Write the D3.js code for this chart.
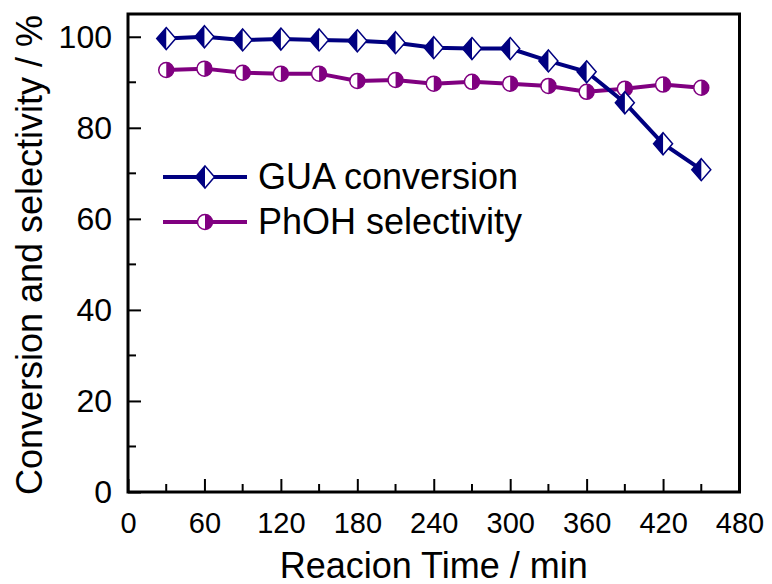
<!DOCTYPE html>
<html lang="en">
<head>
  <meta charset="UTF-8">
  <title>Conversion and selectivity</title>
  <script src="https://d3js.org/d3.v7.min.js"></script>
  <style>
    body {
      margin: 0;
      padding: 0;
      background: #fff;
    }
    svg text {
      font-family: "Liberation Sans", Arial, sans-serif;
      fill: #000;
    }
  </style>
</head>
<body>
  <svg id="chart"></svg>
  <script>
    // values
    const times = [30, 60, 90, 120, 150, 180, 210, 240, 270, 300, 330, 360, 390, 420, 450];
    const guaConversion = [99.6, 100.0, 99.3, 99.5, 99.3, 99.1, 98.7, 97.6, 97.4, 97.4, 94.7, 92.3, 85.5, 76.5, 70.8];
    const phohSelectivity = [92.7, 93.0, 92.1, 91.9, 91.9, 90.3, 90.5, 89.7, 90.1, 89.7, 89.2, 87.9, 88.6, 89.5, 88.8];
    const xTicks = [0, 60, 120, 180, 240, 300, 360, 420, 480];
    const xMinorTicks = [30, 90, 150, 210, 270, 330, 390, 450];
    const yTicks = [0, 20, 40, 60, 80, 100];
    const yMinorTicks = [10, 30, 50, 70, 90];
    const seriesNames = ["GUA conversion", "PhOH selectivity"];

    const width = 772;
    const height = 584;
    const margin = { top: 14, right: 32.5, bottom: 92, left: 128 };
    const navy = "#000080";
    const purple = "#800080";

    const svg = d3.select("#chart")
      .attr("width", width)
      .attr("height", height);

    const x = d3.scaleLinear()
      .domain([0, 480])
      .range([margin.left, width - margin.right]);

    const y = d3.scaleLinear()
      .domain([0, 105])
      .range([height - margin.bottom, margin.top]);

    // axes with inward ticks
    const xAxis = svg.append("g")
      .attr("transform", `translate(0,${height - margin.bottom})`)
      .call(d3.axisBottom(x).tickValues(xTicks).tickSize(-13).tickPadding(20).tickFormat(d3.format("d")));
    xAxis.selectAll("text").attr("font-size", 29).attr("dy", "0.71em");
    xAxis.selectAll(".tick line").attr("stroke", "#000").attr("stroke-width", 2);
    xAxis.append("g").selectAll("line")
      .data(xMinorTicks)
      .join("line")
      .attr("x1", d => x(d)).attr("x2", d => x(d))
      .attr("y1", 0).attr("y2", -8)
      .attr("stroke", "#000")
      .attr("stroke-width", 2);

    const yAxis = svg.append("g")
      .attr("transform", `translate(${margin.left},0)`)
      .call(d3.axisLeft(y).tickValues(yTicks).tickSize(-13).tickPadding(16).tickFormat(d3.format("d")));
    yAxis.selectAll("text").attr("font-size", 32);
    yAxis.selectAll(".tick line").attr("stroke", "#000").attr("stroke-width", 2);
    yAxis.append("g").selectAll("line")
      .data(yMinorTicks)
      .join("line")
      .attr("y1", d => y(d)).attr("y2", d => y(d))
      .attr("x1", 0).attr("x2", 8)
      .attr("stroke", "#000")
      .attr("stroke-width", 2);

    svg.selectAll(".domain").remove();

    // frame
    svg.append("rect")
      .attr("x", x(0))
      .attr("y", y(105))
      .attr("width", x(480) - x(0))
      .attr("height", y(0) - y(105))
      .attr("fill", "none")
      .attr("stroke", "#000")
      .attr("stroke-width", 3);

    // axis titles
    svg.append("text")
      .attr("x", (x(0) + x(480)) / 2)
      .attr("y", 578)
      .attr("text-anchor", "middle")
      .attr("font-size", 36)
      .text("Reacion Time / min");

    svg.append("text")
      .attr("transform", `translate(42,${(y(0) + y(105)) / 2 + 2}) rotate(-90)`)
      .attr("text-anchor", "middle")
      .attr("font-size", 36)
      .text("Conversion and selectivity / %");

    // markers
    function diamond(g, color) {
      g.append("path")
        .attr("d", "M0,-11L9.5,0L0,11L-9.5,0Z")
        .attr("fill", "#fff")
        .attr("stroke", color)
        .attr("stroke-width", 1.5);
      g.append("path")
        .attr("d", "M0,-11L-9.5,0L0,11Z")
        .attr("fill", color);
    }

    function halfCircle(g, color) {
      g.append("circle")
        .attr("r", 7.5)
        .attr("fill", "#fff")
        .attr("stroke", color)
        .attr("stroke-width", 1.5);
      g.append("path")
        .attr("d", "M0,-7.5A7.5,7.5 0 0,1 0,7.5Z")
        .attr("fill", color);
    }

    const line = d3.line()
      .x(d => x(d[0]))
      .y(d => y(d[1]));

    const phohData = times.map((t, i) => [t, phohSelectivity[i]]);
    const guaData = times.map((t, i) => [t, guaConversion[i]]);

    svg.append("path")
      .datum(phohData)
      .attr("d", line)
      .attr("fill", "none")
      .attr("stroke", purple)
      .attr("stroke-width", 4);

    svg.append("path")
      .datum(guaData)
      .attr("d", line)
      .attr("fill", "none")
      .attr("stroke", navy)
      .attr("stroke-width", 4);

    svg.append("g").selectAll("g")
      .data(phohData)
      .join("g")
      .attr("transform", d => `translate(${x(d[0])},${y(d[1])})`)
      .each(function () { halfCircle(d3.select(this), purple); });

    svg.append("g").selectAll("g")
      .data(guaData)
      .join("g")
      .attr("transform", d => `translate(${x(d[0])},${y(d[1])})`)
      .each(function () { diamond(d3.select(this), navy); });

    // legend
    const legend = svg.append("g");
    const legendRows = [
      { name: seriesNames[0], color: navy, marker: diamond, y: 177 },
      { name: seriesNames[1], color: purple, marker: halfCircle, y: 222 }
    ];
    legendRows.forEach(r => {
      legend.append("line")
        .attr("x1", 163).attr("x2", 247)
        .attr("y1", r.y).attr("y2", r.y)
        .attr("stroke", r.color)
        .attr("stroke-width", 4);
      const m = legend.append("g").attr("transform", `translate(205,${r.y})`);
      r.marker(m, r.color);
      legend.append("text")
        .attr("x", 258)
        .attr("y", r.y + 12)
        .attr("font-size", 36)
        .text(r.name);
    });
  </script>
</body>
</html>
